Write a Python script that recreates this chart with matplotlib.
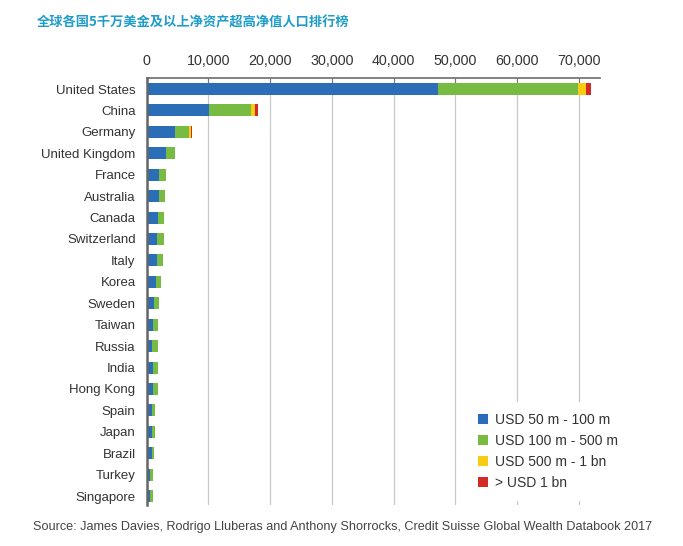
import numpy as np
import matplotlib.pyplot as plt

plt.rcParams['font.family'] = ['Liberation Sans', 'Noto Sans CJK SC', 'DejaVu Sans']

countries = ['United States', 'China', 'Germany', 'United Kingdom', 'France',
             'Australia', 'Canada', 'Switzerland', 'Italy', 'Korea', 'Sweden',
             'Taiwan', 'Russia', 'India', 'Hong Kong', 'Spain', 'Japan',
             'Brazil', 'Turkey', 'Singapore']
usd_50_100m = [47200, 10150, 4540, 3130, 2000, 1950, 1830, 1670, 1620, 1460,
               1180, 1020, 910, 1020, 1020, 910, 860, 810, 590, 590]
usd_100_500m = [22700, 6720, 2370, 1510, 1080, 1020, 1030, 1190, 980, 920,
                870, 870, 920, 870, 760, 490, 490, 430, 430, 430]
usd_500m_1bn = [1300, 700, 250, 0, 0, 0, 0, 0, 0, 0,
                0, 0, 0, 0, 0, 0, 0, 0, 0, 0]
usd_1bn = [800, 530, 150, 0, 0, 0, 0, 0, 0, 0,
           0, 0, 0, 0, 0, 0, 0, 0, 0, 0]
series_labels = ['USD 50 m - 100 m', 'USD 100 m - 500 m',
                 'USD 500 m - 1 bn', '> USD 1 bn']
colors = ['#2c6db8', '#77bb42', '#f7cc12', '#d42a27']

fig = plt.figure(figsize=(6.83, 5.46), dpi=100)
ax = fig.add_axes([0.2148, 0.075, 0.664, 0.782])

y = np.arange(len(countries))
left = np.zeros(len(countries))
for vals, lab, c in zip([usd_50_100m, usd_100_500m, usd_500m_1bn, usd_1bn],
                        series_labels, colors):
    vals = np.array(vals)
    ax.barh(y, vals, left=left, height=0.56, color=c, label=lab, zorder=3)
    left += vals

ax.set_ylim(19.42, -0.51)
ax.set_xlim(0, 73500)
ax.set_xticks(np.arange(0, 70001, 10000))
ax.set_xticklabels(['{:,}'.format(v) for v in range(0, 70001, 10000)])
ax.xaxis.tick_top()
ax.tick_params(axis='x', length=4, width=0.8, color='#777777', labelsize=10.3,
               labelcolor='#333333', direction='in', pad=7)
ax.set_yticks(y)
ax.set_yticklabels(countries)
ax.tick_params(axis='y', length=0, labelsize=9.5, labelcolor='#333333', pad=8)
ax.grid(axis='x', color='#c8c8c8', linewidth=0.9, zorder=0)

for s in ['right', 'bottom']:
    ax.spines[s].set_visible(False)
ax.spines['top'].set_color('#777777')
ax.spines['top'].set_linewidth(1.3)
ax.spines['left'].set_color('#666666')
ax.spines['left'].set_linewidth(1.8)
ax.spines['left'].set_zorder(4)

leg = ax.legend(loc='lower right', bbox_to_anchor=(1.078, -0.007), frameon=True,
                fontsize=10, handlelength=0.7, handleheight=0.7,
                handletextpad=0.5, labelspacing=0.5, borderpad=0.8)
leg.get_frame().set_edgecolor('none')
leg.get_frame().set_facecolor('white')
leg.get_frame().set_alpha(1)
for t in leg.get_texts():
    t.set_color('#333333')

fig.text(0.054, 0.958, '全球各国5千万美金及以上净资产超高净值人口排行榜',
         fontsize=9.5, color='#1f9dc8', fontweight='bold', va='center',
         family=['Noto Sans CJK SC', 'DejaVu Sans'])
fig.text(0.048, 0.035, 'Source: James Davies, Rodrigo Lluberas and Anthony Shorrocks, '
         'Credit Suisse Global Wealth Databook 2017',
         fontsize=9.1, color='#444444', va='center')

fig.savefig('out.png', dpi=100)
